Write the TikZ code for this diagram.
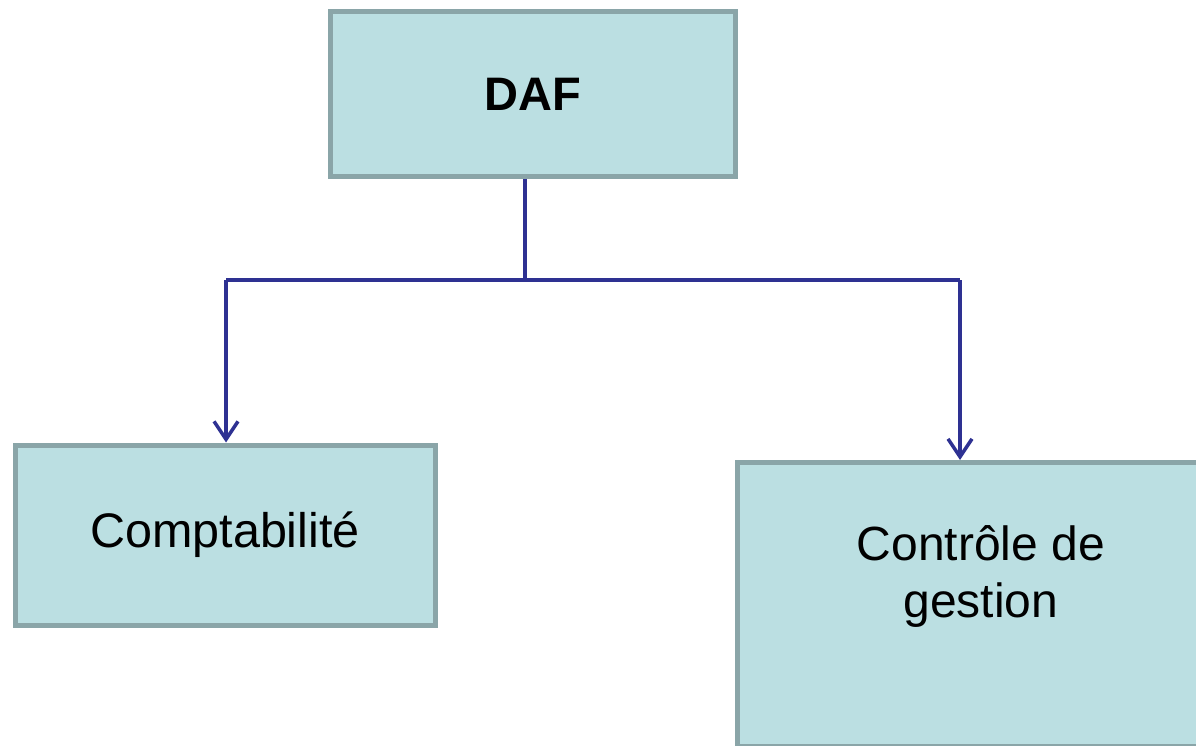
\documentclass[tikz,border=0pt]{standalone}
\usepackage{fontspec}
\setmainfont{Liberation Sans}
\usepackage{xcolor}
\usetikzlibrary{positioning,arrows.meta}
\definecolor{boxfill}{HTML}{BBDFE2}
\definecolor{boxedge}{HTML}{8AA5A8}
\definecolor{linkblue}{HTML}{2E3192}

\begin{document}
\begin{tikzpicture}[x=1pt, y=-1pt,
  unit/.style={draw=boxedge, fill=boxfill, line width=5pt, inner sep=0pt,
    font=\fontsize{48.5}{57}\selectfont},
  link/.style={draw=linkblue, line width=3.5pt},
  tip/.style={-{Straight Barb[length=18pt,width=24pt,line width=3.5pt]}}]
\useasboundingbox (0,0) rectangle (1196,746);
\clip (0,0) rectangle (1196,746);

% Boxes
\node[unit, minimum width=405pt, minimum height=165pt, font=\fontsize{47}{57}\selectfont\bfseries] (daf) at (533,94) {DAF};
\node[unit, minimum width=420pt, minimum height=180pt] (compta) at (225,535) {Comptabilité};
\node[unit, minimum width=560pt, minimum height=284pt, anchor=north west] (ctrl) at (735,460) {};
\node[align=center, font=\fontsize{48}{57}\selectfont] (ctrltext) at (981,577) {Contrôle de\\gestion};

% Connectors
\coordinate (split) at (525,280);
\coordinate (left) at (226,280);
\coordinate (right) at (960,280);
\coordinate (ctrltop) at (960,460);
\draw[link] (daf.south -| split) -- (split);
\draw[link] (left) -- (right);
\draw[link, tip] (left) -- (compta.north -| left);
\draw[link, tip] (right) -- (ctrltop);
\end{tikzpicture}
\end{document}
